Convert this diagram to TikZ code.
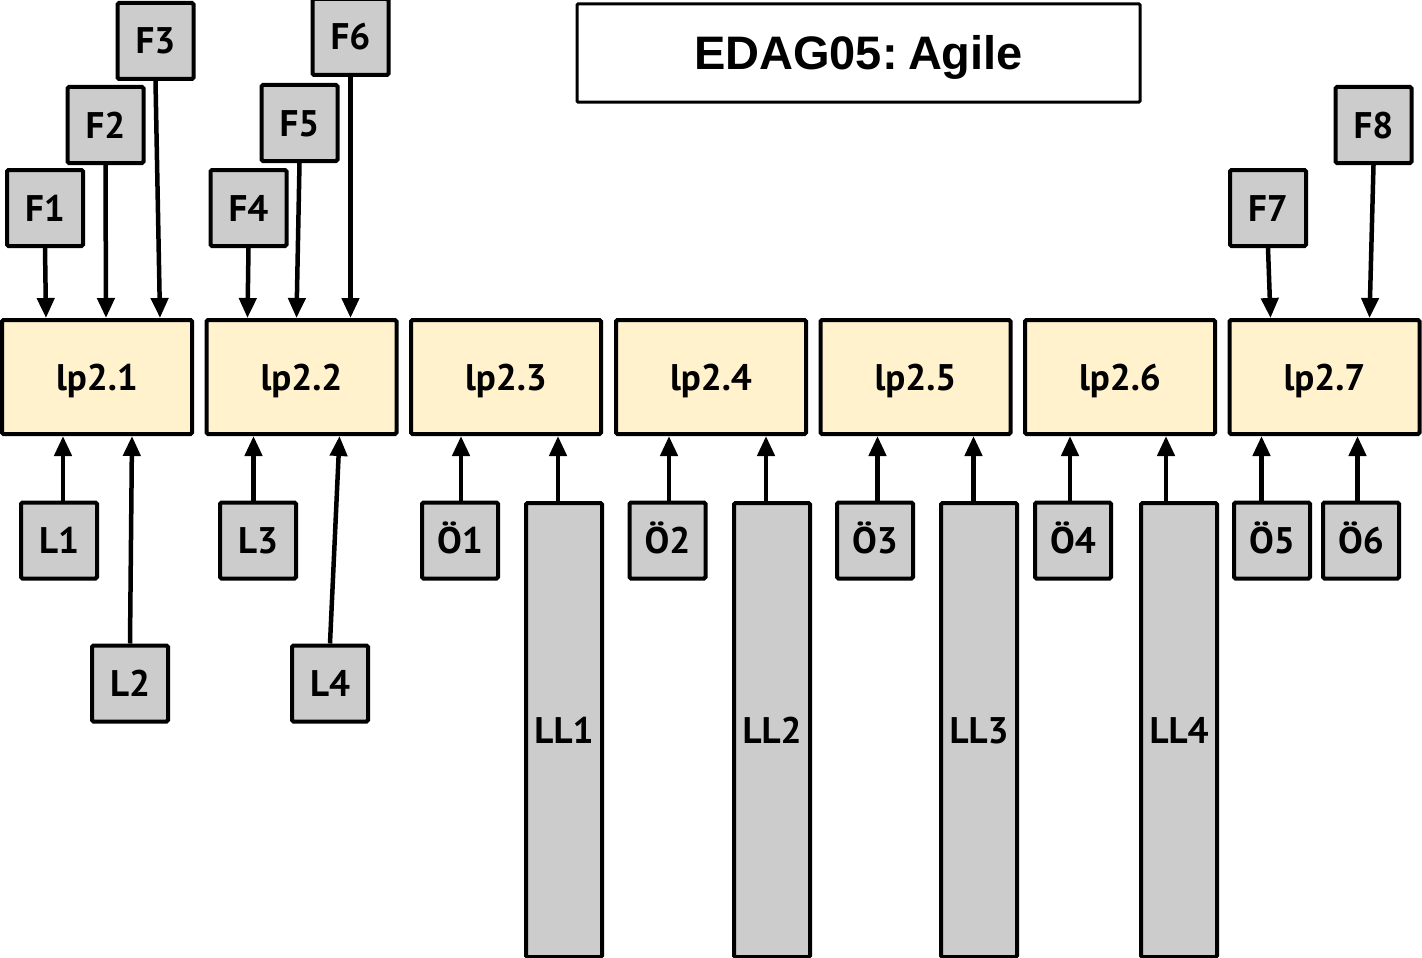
\documentclass[tikz,border=0pt]{standalone}
\usepackage{fontspec}
\setmainfont{PT Sans}
\newfontfamily\titlefont{Liberation Sans}
\usetikzlibrary{arrows.meta}
\definecolor{lpfill}{HTML}{FFF2CC}
\definecolor{gfill}{HTML}{CCCCCC}
\begin{document}
\begin{tikzpicture}[x=1pt,y=-1pt,
  box/.style={draw=black, line width=4pt, rounded corners=1.5pt, rectangle, inner sep=0pt, text height=26pt, text depth=0pt, font=\fontsize{37}{44}\selectfont\bfseries},
  gbox/.style={box, fill=gfill, minimum width=76pt, minimum height=76pt},
  llbox/.style={box, fill=gfill, minimum width=76pt, minimum height=454pt},
  lpbox/.style={box, fill=lpfill, minimum width=190pt, minimum height=114pt},
  titlebox/.style={draw=black, line width=3pt, rounded corners=1pt, fill=white, rectangle, minimum width=563pt, minimum height=98pt, inner sep=0pt, text height=34pt, text depth=0pt, font=\titlefont\fontsize{47}{56}\selectfont\bfseries},
  arr/.style={line width=4.5pt, -{Triangle[length=20pt,width=17pt]}}
]
\useasboundingbox (0,0) rectangle (1422,958);
\fill[white] (0,0) rectangle (1422,958);

\node[titlebox] (title) at (858.5,53) {EDAG05:\hspace{-0.15em} Agile};

% top F boxes
\node[gbox] (F1) at (45,208) {F1};
\node[gbox] (F2) at (105.5,125) {F2};
\node[gbox] (F3) at (155.5,41) {F3};
\node[gbox] (F4) at (248.5,208) {F4};
\node[gbox] (F5) at (299.5,123) {F5};
\node[gbox] (F6) at (350.5,37) {F6};
\node[gbox] (F7) at (1268,208) {F7};
\node[gbox] (F8) at (1373.5,125) {F8};

% lp boxes
\node[lpbox] (lp1) at (97,377) {lp2.1};
\node[lpbox] (lp2) at (301.5,377) {lp2.2};
\node[lpbox] (lp3) at (506,377) {lp2.3};
\node[lpbox] (lp4) at (711,377) {lp2.4};
\node[lpbox] (lp5) at (915.5,377) {lp2.5};
\node[lpbox] (lp6) at (1120,377) {lp2.6};
\node[lpbox] (lp7) at (1324.5,377) {lp2.7};

% bottom boxes
\node[gbox] (L1) at (59,540.5) {L1};
\node[gbox] (L2) at (130,683.5) {L2};
\node[gbox] (L3) at (258,540.5) {L3};
\node[gbox] (L4) at (330,683.5) {L4};
\node[gbox] (O1) at (460,540.5) {Ö1};
\node[gbox] (O2) at (667.5,540.5) {Ö2};
\node[gbox] (O3) at (875,540.5) {Ö3};
\node[gbox] (O4) at (1073,540.5) {Ö4};
\node[gbox] (O5) at (1272,540.5) {Ö5};
\node[gbox] (O6) at (1361,540.5) {Ö6};
\node[llbox] (LL1) at (564,730) {LL1};
\node[llbox] (LL2) at (772,730) {LL2};
\node[llbox] (LL3) at (979,730) {LL3};
\node[llbox] (LL4) at (1179,730) {LL4};

% top arrows
\draw[arr] (F1.south) -- ([xshift=46pt]lp1.north west);
\draw[arr] (F2.south) -- ([xshift=106pt]lp1.north west);
\draw[arr] (F3.south) -- ([xshift=160pt]lp1.north west);
\draw[arr] (F4.south) -- ([xshift=43pt]lp2.north west);
\draw[arr] (F5.south) -- ([xshift=92pt]lp2.north west);
\draw[arr] (F6.south) -- ([xshift=146pt]lp2.north west);
\draw[arr] (F7.south) -- ([xshift=43pt]lp7.north west);
\draw[arr] (F8.south) -- ([xshift=142pt]lp7.north west);

% bottom arrows
\coordinate (eL1) at ([xshift=63pt]lp1.south west);
\coordinate (eL3) at ([xshift=49pt]lp2.south west);
\coordinate (eO1) at ([xshift=52pt]lp3.south west);
\coordinate (eLL1) at ([xshift=149pt]lp3.south west);
\coordinate (eO2) at ([xshift=55pt]lp4.south west);
\coordinate (eLL2) at ([xshift=152pt]lp4.south west);
\coordinate (eO3) at ([xshift=59pt]lp5.south west);
\coordinate (eLL3) at ([xshift=155pt]lp5.south west);
\coordinate (eO4) at ([xshift=47pt]lp6.south west);
\coordinate (eLL4) at ([xshift=143pt]lp6.south west);
\coordinate (eO5) at ([xshift=34pt]lp7.south west);
\coordinate (eO6) at ([xshift=130pt]lp7.south west);

\draw[arr] (L1.north -| eL1) -- (eL1);
\draw[arr] (L2.north) -- ([xshift=132pt]lp1.south west);
\draw[arr] (L3.north -| eL3) -- (eL3);
\draw[arr] (L4.north) -- ([xshift=135pt]lp2.south west);
\draw[arr] (O1.north -| eO1) -- (eO1);
\draw[arr] (LL1.north -| eLL1) -- (eLL1);
\draw[arr] (O2.north -| eO2) -- (eO2);
\draw[arr] (LL2.north -| eLL2) -- (eLL2);
\draw[arr] (O3.north -| eO3) -- (eO3);
\draw[arr] (LL3.north -| eLL3) -- (eLL3);
\draw[arr] (O4.north -| eO4) -- (eO4);
\draw[arr] (LL4.north -| eLL4) -- (eLL4);
\draw[arr] (O5.north -| eO5) -- (eO5);
\draw[arr] (O6.north -| eO6) -- (eO6);
\end{tikzpicture}
\end{document}
